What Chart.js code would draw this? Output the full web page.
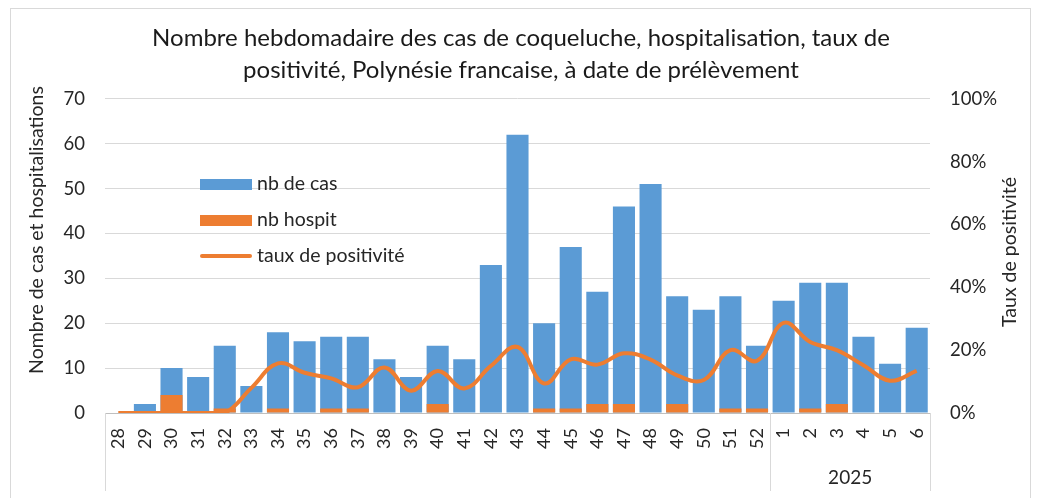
<!DOCTYPE html>
<html>
<head>
<meta charset="utf-8">
<script src="https://cdn.jsdelivr.net/npm/chart.js@4/dist/chart.umd.min.js"></script>
<style>
  html, body { margin: 0; padding: 0; background: #fff; }
  #wrap { width: 1042px; height: 498px; }
</style>
</head>
<body>
<div id="wrap"><canvas id="coqueluche"></canvas></div>
<script>
// semaines (2024 : 28-52, 2025 : 1-6)
const weeks = ["28","29","30","31","32","33","34","35","36","37","38","39","40","41","42","43","44","45","46","47","48","49","50","51","52","1","2","3","4","5","6"];
const years = ["", "2025"];
const yearFirstWeek = [0, 25];

const nbCas = [0, 2, 10, 8, 15, 6, 18, 16, 17, 17, 12, 8, 15, 12, 33, 62, 20, 37, 27, 46, 51, 26, 23, 26, 15, 25, 29, 29, 17, 11, 19];
const nbHospit = [0, 0, 4, 0, 1, 0, 1, 0, 1, 1, 0, 0, 2, 0, 0, 0, 1, 1, 2, 2, 0, 2, 0, 1, 1, 0, 1, 2, 0, 0, 0];
const tauxPositivite = [0, 0, 0, 0, 0, 0.08, 0.158, 0.128, 0.11, 0.082, 0.145, 0.071, 0.134, 0.078, 0.15, 0.21, 0.094, 0.171, 0.154, 0.19, 0.17, 0.12, 0.105, 0.20, 0.166, 0.287, 0.226, 0.20, 0.152, 0.103, 0.134];

const blue = "#5B9BD5";
const orange = "#ED7D31";
const fontFamily = "Lato, 'Open Sans', sans-serif";
const textColor = "#262626";

// cadre, titres d'axes, légende et axe des années
const excelLook = {
    id: "excelLook",
    beforeDraw(chart) {
        const ctx = chart.ctx;
        ctx.save();
        ctx.strokeStyle = "#d9d9d9";
        ctx.lineWidth = 1;
        ctx.strokeRect(10.5, 8.5, 1020, 520);
        ctx.restore();
    },
    afterDraw(chart) {
        const ctx = chart.ctx;
        const x = chart.scales.x;
        const area = chart.chartArea;
        ctx.save();

        // séparateurs et libellés des années
        ctx.strokeStyle = "#d9d9d9";
        ctx.lineWidth = 1;
        const edges = [area.left];
        yearFirstWeek.slice(1).forEach(i => {
            edges.push((x.getPixelForValue(i - 1) + x.getPixelForValue(i)) / 2);
        });
        edges.push(area.right);
        edges.forEach(px => {
            ctx.beginPath();
            ctx.moveTo(Math.round(px) + 0.5, area.bottom);
            ctx.lineTo(Math.round(px) + 0.5, 491);
            ctx.stroke();
        });
        ctx.fillStyle = textColor;
        ctx.font = "19px " + fontFamily;
        ctx.textAlign = "center";
        ctx.textBaseline = "middle";
        years.forEach((label, k) => {
            const first = yearFirstWeek[k];
            const last = k + 1 < yearFirstWeek.length ? yearFirstWeek[k + 1] - 1 : weeks.length - 1;
            const cx = (x.getPixelForValue(first) + x.getPixelForValue(last)) / 2;
            ctx.fillText(label, cx, 478);
        });

        // titres d'axes
        ctx.font = "19.5px " + fontFamily;
        ctx.save();
        ctx.translate(37, 230);
        ctx.rotate(-Math.PI / 2);
        ctx.fillText("Nombre de cas et hospitalisations", 0, 0);
        ctx.restore();
        ctx.save();
        ctx.translate(1010, 252);
        ctx.rotate(-Math.PI / 2);
        ctx.fillText("Taux de positivité", 0, 0);
        ctx.restore();

        // légende
        ctx.textAlign = "left";
        ctx.font = "19.5px " + fontFamily;
        chart.data.datasets.forEach((ds, i) => {
            const y = 184 + i * 36;
            if (ds.type === "line") {
                ctx.strokeStyle = ds.borderColor;
                ctx.lineWidth = 4;
                ctx.lineCap = "round";
                ctx.beginPath();
                ctx.moveTo(202, y);
                ctx.lineTo(250, y);
                ctx.stroke();
            } else {
                ctx.fillStyle = ds.backgroundColor;
                ctx.fillRect(200, y - 5, 52, 11);
            }
            ctx.fillStyle = textColor;
            ctx.fillText(ds.label, 257, y);
        });
        ctx.restore();
    }
};

new Chart(document.getElementById("coqueluche"), {
    data: {
        labels: weeks,
        datasets: [
            {
                type: "bar",
                label: "nb de cas",
                data: nbCas,
                backgroundColor: blue,
                yAxisID: "y",
                order: 3,
                categoryPercentage: 1,
                barPercentage: 0.83
            },
            {
                type: "bar",
                label: "nb hospit",
                data: nbHospit,
                backgroundColor: orange,
                yAxisID: "y",
                order: 2,
                categoryPercentage: 1,
                barPercentage: 0.83
            },
            {
                type: "line",
                label: "taux de positivité",
                data: tauxPositivite,
                borderColor: orange,
                backgroundColor: orange,
                borderWidth: 4,
                pointRadius: 0,
                tension: 0.4,
                yAxisID: "y1",
                order: 1
            }
        ]
    },
    options: {
        responsive: true,
        maintainAspectRatio: false,
        animation: false,
        layout: { padding: { top: 22, left: 0, right: 0, bottom: 0 } },
        plugins: {
            legend: { display: false },
            tooltip: { enabled: false },
            title: {
                display: true,
                text: ["Nombre hebdomadaire des cas de coqueluche, hospitalisation, taux de", "positivité, Polynésie francaise, à date de prélèvement"],
                color: "#1a1a1a",
                font: { family: fontFamily, size: 24, weight: "normal", lineHeight: 1.35 },
                padding: { top: 0, bottom: 12 }
            }
        },
        scales: {
            x: {
                stacked: true,
                afterFit: s => { s.height = 85; },
                grid: { display: false, drawTicks: false },
                border: { display: true, color: "#bfbfbf" },
                ticks: {
                    autoSkip: false,
                    minRotation: 90,
                    maxRotation: 90,
                    padding: 15,
                    color: textColor,
                    font: { family: fontFamily, size: 18 }
                }
            },
            y: {
                position: "left",
                min: 0,
                max: 70,
                afterFit: s => { s.width = 105; },
                grid: { color: "#d9d9d9", drawTicks: false },
                border: { display: false },
                ticks: {
                    stepSize: 10,
                    padding: 20,
                    color: textColor,
                    font: { family: fontFamily, size: 18.5 }
                }
            },
            y1: {
                position: "right",
                min: 0,
                max: 1,
                afterFit: s => { s.width = 112; },
                grid: { drawOnChartArea: false, drawTicks: false },
                border: { display: false },
                ticks: {
                    stepSize: 0.2,
                    padding: 20,
                    color: textColor,
                    font: { family: fontFamily, size: 18.5 },
                    callback: v => Math.round(v * 100) + "%"
                }
            }
        }
    },
    plugins: [excelLook]
});
</script>
</body>
</html>
